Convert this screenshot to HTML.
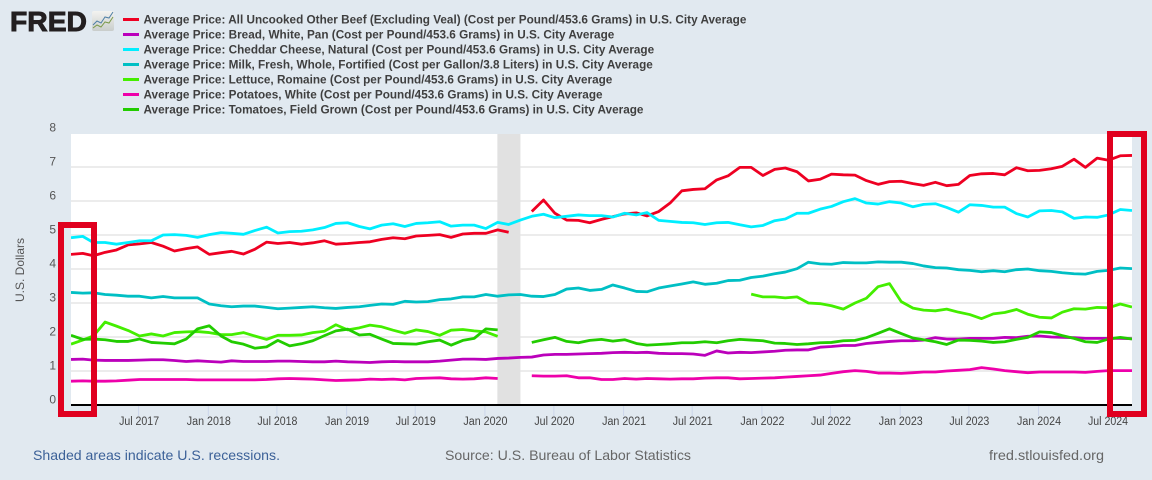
<!DOCTYPE html>
<html lang="en">
<head>
<meta charset="utf-8">
<title>FRED Average Prices</title>
<style>
html,body{margin:0;padding:0;background:#e1e9f0;}
body{width:1152px;height:480px;overflow:hidden;}
svg{display:block;font-family:"Liberation Sans",Arial,sans-serif;}
</style>
</head>
<body>
<svg id="chart" xmlns="http://www.w3.org/2000/svg" width="1152" height="480" viewBox="0 0 1152 480">
  <rect x="0" y="0" width="1152" height="480" fill="#e1e9f0"/>
  <g>
    <text x="10" y="31" font-size="28" font-weight="700" fill="#231f20" stroke="#231f20" stroke-width="0.9" textLength="77" lengthAdjust="spacingAndGlyphs">FRED</text>
    <defs><linearGradient id="logoFill" x1="0" y1="0" x2="0" y2="1"><stop offset="0" stop-color="#f3f3f0"/><stop offset="1" stop-color="#c9cdcb"/></linearGradient></defs>
    <rect x="92" y="11" width="22" height="20" rx="2" fill="url(#logoFill)"/>
    <polyline points="93,25 97,21 101,23 105,17 109,18 113,12" fill="none" stroke="#4f7fa6" stroke-width="1"/>
    <polyline points="93,28 97,25 101,27 105,22 109,23 113,17" fill="none" stroke="#7a9a4a" stroke-width="1"/>
  </g>
  <g id="legend"></g>
  <rect x="71" y="134" width="1061" height="271" fill="#ffffff"/>
  <g id="grid"></g>
  <rect id="recession" fill="#e1e1e1"/>
  <clipPath id="plotClip"><rect x="71" y="125" width="1061" height="280"/></clipPath>
  <g id="series" clip-path="url(#plotClip)"></g>
  <line x1="71" x2="1132" y1="405" y2="405" stroke="#000000" stroke-width="2"/>
  <g id="xticks"></g>
  <g id="yticks"></g>
  <text transform="translate(24 270) rotate(-90)" text-anchor="middle" font-size="12" fill="#555555">U.S. Dollars</text>
  <rect x="61" y="225" width="33" height="189" fill="none" stroke="#e0001f" stroke-width="6"/>
  <rect x="1110" y="134" width="34" height="280" fill="none" stroke="#e0001f" stroke-width="6"/>
  <text x="33" y="460" font-size="14" fill="#3c6198" textLength="247" lengthAdjust="spacingAndGlyphs">Shaded areas indicate U.S. recessions.</text>
  <text x="445" y="460" font-size="14" fill="#666666" textLength="246" lengthAdjust="spacingAndGlyphs">Source: U.S. Bureau of Labor Statistics</text>
  <text x="989" y="460" font-size="14" fill="#666666" textLength="115" lengthAdjust="spacingAndGlyphs">fred.stlouisfed.org</text>
</svg>
<script>
var startYear = 2017;
var monthCount = 93;
var yTickValues = [0,1,2,3,4,5,6,7,8];
var xTickLabels = ['Jul 2017','Jan 2018','Jul 2018','Jan 2019','Jul 2019','Jan 2020','Jul 2020','Jan 2021','Jul 2021','Jan 2022','Jul 2022','Jan 2023','Jul 2023','Jan 2024','Jul 2024'];
var recessionStart = 'Feb 2020';
var recessionEnd = 'Apr 2020';

var beefName = 'Average Price: All Uncooked Other Beef (Excluding Veal) (Cost per Pound/453.6 Grams) in U.S. City Average';
var breadName = 'Average Price: Bread, White, Pan (Cost per Pound/453.6 Grams) in U.S. City Average';
var cheeseName = 'Average Price: Cheddar Cheese, Natural (Cost per Pound/453.6 Grams) in U.S. City Average';
var milkName = 'Average Price: Milk, Fresh, Whole, Fortified (Cost per Gallon/3.8 Liters) in U.S. City Average';
var lettuceName = 'Average Price: Lettuce, Romaine (Cost per Pound/453.6 Grams) in U.S. City Average';
var potatoesName = 'Average Price: Potatoes, White (Cost per Pound/453.6 Grams) in U.S. City Average';
var tomatoesName = 'Average Price: Tomatoes, Field Grown (Cost per Pound/453.6 Grams) in U.S. City Average';

var beefValues = [4.43,4.46,4.39,4.49,4.56,4.71,4.74,4.78,4.67,4.53,4.60,4.65,4.43,4.48,4.52,4.44,4.58,4.79,4.75,4.78,4.73,4.77,4.83,4.73,4.75,
4.78,4.80,4.87,4.92,4.89,4.97,4.99,5.01,4.93,5.03,5.05,5.05,5.15,5.08,null,
5.69,6.03,5.64,5.44,5.43,5.36,5.46,5.54,5.62,5.65,
5.56,5.69,5.94,6.30,6.34,6.36,6.62,6.74,6.99,6.99,6.75,6.93,6.97,6.86,6.59,6.64,6.79,6.77,6.76,6.60,6.49,6.57,
6.58,6.51,6.46,6.55,6.45,6.49,6.75,6.80,6.81,6.77,6.98,6.89,6.90,6.95,7.02,7.23,6.99,7.26,7.20,7.33,7.34];
var breadValues = [1.34,1.35,1.32,1.31,1.31,1.31,1.32,1.33,1.33,1.31,1.28,1.30,1.28,1.26,1.30,1.28,1.28,1.28,1.29,1.29,1.28,1.27,1.27,1.29,1.27,
1.26,1.25,1.27,1.28,1.27,1.27,1.27,1.29,1.32,1.35,1.35,1.34,1.37,1.38,1.40,1.41,1.47,1.49,1.49,1.50,1.51,1.52,1.54,1.55,1.54,
1.55,1.52,1.51,1.51,1.50,1.46,1.59,1.53,1.55,1.54,1.56,1.58,1.61,1.62,1.62,1.70,1.72,1.75,1.75,1.81,1.84,1.87,
1.89,1.89,1.91,1.98,1.94,1.94,1.96,1.96,1.96,1.99,1.98,2.02,2.03,2.00,1.99,1.98,1.96,1.96,1.96,1.96,1.95];
var cheeseValues = [4.92,4.96,4.78,4.78,4.73,4.78,4.83,4.83,5.00,5.01,4.99,4.93,5.01,5.07,5.05,5.02,5.13,5.23,5.06,5.10,5.11,5.15,5.22,5.34,5.36,
5.25,5.18,5.29,5.33,5.25,5.34,5.36,5.39,5.26,5.29,5.29,5.19,5.37,5.31,5.44,5.55,5.61,5.51,5.55,5.59,5.57,5.57,5.53,5.64,5.59,
5.66,5.43,5.40,5.37,5.36,5.31,5.36,5.37,5.30,5.24,5.28,5.42,5.47,5.64,5.64,5.76,5.84,5.98,6.07,5.94,5.91,5.98,
5.94,5.83,5.90,5.92,5.81,5.67,5.89,5.87,5.82,5.82,5.63,5.53,5.71,5.72,5.68,5.49,5.53,5.52,5.59,5.75,5.72];
var milkValues = [3.31,3.29,3.30,3.25,3.23,3.20,3.20,3.15,3.19,3.15,3.15,3.15,2.97,2.92,2.89,2.91,2.91,2.87,2.83,2.85,2.87,2.89,2.86,2.84,2.87,
2.89,2.93,2.97,2.96,3.05,3.03,3.04,3.10,3.12,3.18,3.18,3.25,3.20,3.24,3.25,3.20,3.19,3.25,3.41,3.44,3.37,3.40,3.53,3.44,3.34,
3.33,3.44,3.50,3.56,3.62,3.55,3.58,3.66,3.67,3.75,3.79,3.86,3.91,4.01,4.20,4.15,4.14,4.19,4.18,4.18,4.21,4.20,
4.20,4.16,4.09,4.04,4.03,3.98,3.96,3.92,3.95,3.92,3.98,4.00,3.95,3.93,3.89,3.86,3.85,3.93,3.96,4.03,4.01];
var lettuceValues = [1.79,1.91,2.03,2.44,2.32,2.19,2.03,2.09,2.03,2.13,2.15,2.16,2.13,2.07,2.07,2.13,2.03,1.93,2.05,2.05,2.06,2.13,2.17,2.36,2.21,
2.27,2.35,2.30,2.20,2.11,2.21,2.16,2.05,2.20,2.22,2.18,2.15,2.02,
null,null,null,null,null,null,null,null,null,null,null,null,null,null,null,null,null,null,null,null,null,
3.26,3.18,3.18,3.15,3.18,3.00,2.98,2.92,2.82,3.00,3.14,3.48,3.57,
3.04,2.85,2.79,2.77,2.82,2.73,2.66,2.54,2.68,2.72,2.81,2.67,2.58,2.56,2.73,2.83,2.82,2.87,2.86,2.97,2.88];
var potatoesValues = [0.70,0.71,0.70,0.70,0.71,0.73,0.75,0.75,0.75,0.75,0.75,0.74,0.74,0.74,0.74,0.74,0.74,0.75,0.77,0.78,0.77,0.76,0.74,0.72,0.73,
0.74,0.76,0.75,0.76,0.74,0.78,0.79,0.80,0.77,0.76,0.77,0.80,0.78,null,null,
0.86,0.85,0.85,0.86,0.80,0.80,0.75,0.75,0.78,0.76,
0.78,0.77,0.76,0.77,0.77,0.79,0.80,0.80,0.77,0.78,0.79,0.80,0.82,0.84,0.86,0.88,0.93,0.98,1.01,0.99,0.94,0.94,
0.93,0.95,0.97,0.97,1.00,1.02,1.04,1.10,1.06,1.01,0.98,0.95,0.97,0.97,0.97,0.97,0.96,0.99,1.01,1.01,1.01];
var tomatoesValues = [2.05,1.93,1.94,1.92,1.87,1.87,1.94,1.84,1.82,1.80,1.94,2.24,2.33,2.03,1.86,1.79,1.67,1.71,1.90,1.74,1.80,1.89,2.04,2.18,2.23,
2.06,2.08,1.94,1.81,1.80,1.79,1.86,1.91,1.76,1.90,1.96,2.24,2.21,null,null,
1.84,1.92,1.99,1.87,1.83,1.90,1.93,1.88,1.92,1.81,
1.76,1.78,1.80,1.83,1.83,1.86,1.83,1.89,1.93,1.91,1.89,1.82,1.81,1.78,1.80,1.83,1.84,1.89,1.90,1.98,2.11,2.24,
2.10,1.97,1.92,1.86,1.78,1.91,1.90,1.88,1.84,1.86,1.93,1.99,2.15,2.13,2.04,1.96,1.86,1.84,1.94,1.99,1.94];

var SVGNS = 'http://www.w3.org/2000/svg';
var plotLeft = 71, plotRight = 1132, zeroY = 405, unitPx = 34;
var t0 = Date.UTC(startYear, 0, 1);
var t1 = Date.UTC(startYear, monthCount - 1, 1);
var monthNames = ['Jan','Feb','Mar','Apr','May','Jun','Jul','Aug','Sep','Oct','Nov','Dec'];

function xScale(t) { return plotLeft + (t - t0) / (t1 - t0) * (plotRight - plotLeft); }
function yScale(v) { return zeroY - v * unitPx; }
function monthTime(i) { return Date.UTC(startYear, i, 1); }
function labelTime(s) { var p = s.split(' '); return Date.UTC(+p[1], monthNames.indexOf(p[0]), 1); }
function make(tag, parent, attrs) {
  var el = document.createElementNS(SVGNS, tag);
  for (var k in attrs) el.setAttribute(k, attrs[k]);
  parent.appendChild(el);
  return el;
}

var gridG = document.getElementById('grid');
var yG = document.getElementById('yticks');
yTickValues.forEach(function (v) {
  if (v > 0 && v < 8) {
    var g = make('line', gridG, {x1: plotLeft, x2: plotRight, y1: yScale(v), y2: yScale(v), stroke: '#e6e6e6', 'stroke-width': 1.5});
    
    
  }
  var t = make('text', yG, {x: 56, y: yScale(v) - 1.5, 'text-anchor': 'end', 'font-size': 12, fill: '#555555'});
  t.textContent = String(v);
  
  
});

var xG = document.getElementById('xticks');
xTickLabels.forEach(function (lab) {
  var x = xScale(labelTime(lab)) - 1;
  var m = make('line', xG, {x1: x, x2: x, y1: 406, y2: 416, stroke: '#ccd6eb', 'stroke-width': 1});
  
  
  var labW = lab.indexOf('Jul') === 0 ? 40 : 44;
  var t = make('text', xG, {x: x + 0.5, y: 425, 'text-anchor': 'middle', 'font-size': 11.5, fill: '#444444', textLength: labW, lengthAdjust: 'spacingAndGlyphs'});
  t.textContent = lab;
  
  
});

var rec = document.getElementById('recession');
var recX0 = xScale(labelTime(recessionStart));
var recX1 = xScale(labelTime(recessionEnd));
rec.setAttribute('x', recX0 - 0.3);
rec.setAttribute('y', 134);
rec.setAttribute('width', recX1 - recX0 + 0.3);
rec.setAttribute('height', 271);

var seriesList = [
  {key: 'beef', name: beefName, values: beefValues, color: '#ee0022'},
  {key: 'bread', name: breadName, values: breadValues, color: '#bb00bb'},
  {key: 'cheese', name: cheeseName, values: cheeseValues, color: '#00eeff'},
  {key: 'milk', name: milkName, values: milkValues, color: '#00bfc4'},
  {key: 'lettuce', name: lettuceName, values: lettuceValues, color: '#44ee00'},
  {key: 'potatoes', name: potatoesName, values: potatoesValues, color: '#ee00aa'},
  {key: 'tomatoes', name: tomatoesName, values: tomatoesValues, color: '#22cc00'}
];

var seriesG = document.getElementById('series');
var legendG = document.getElementById('legend');
seriesList.forEach(function (s, idx) {
  var d = '', pen = false;
  s.values.forEach(function (v, i) {
    if (v === null || v === undefined) { pen = false; return; }
    d += (pen ? 'L' : 'M') + xScale(monthTime(i)).toFixed(2) + ' ' + yScale(v).toFixed(2);
    pen = true;
  });
  var p = make('path', seriesG, {d: d, fill: 'none', stroke: s.color, 'stroke-width': 2.8, 'stroke-linejoin': 'round', 'stroke-linecap': 'butt'});
  
  

  var ly = 19.5 + idx * 15;
  var sw = make('line', legendG, {x1: 123, x2: 139, y1: ly, y2: ly, stroke: s.color, 'stroke-width': 3});
  
  
  var tx = make('text', legendG, {x: 143.5, y: ly + 4, 'font-size': 11.75, 'font-weight': 700, fill: '#3f3f3f'});
  tx.textContent = s.name;
  
  
});
</script>
</body>
</html>
